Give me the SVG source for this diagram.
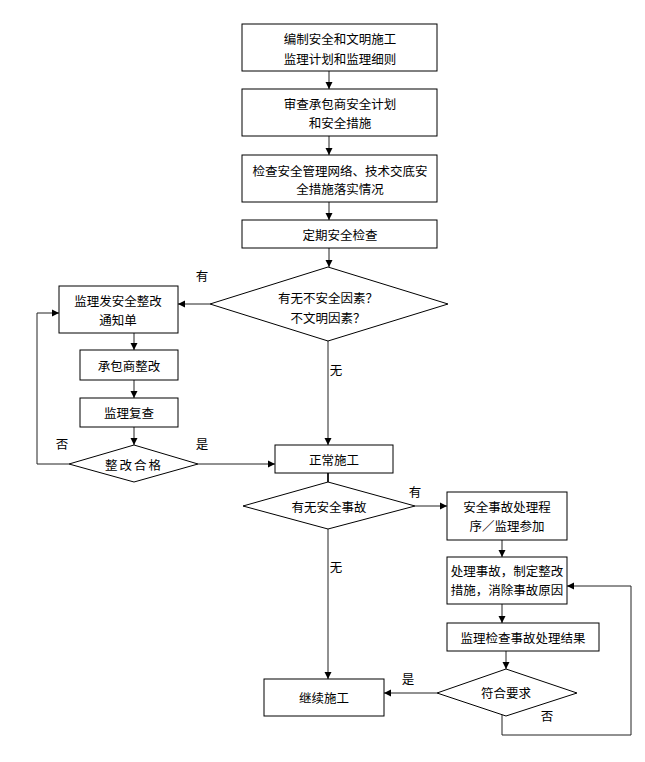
<svg xmlns="http://www.w3.org/2000/svg" width="645" height="762" viewBox="0 0 645 762">
<style>
.n{fill:#fff;stroke:#000;stroke-width:1}
.t{font-family:"Noto Sans CJK SC","Liberation Sans",sans-serif;font-size:12.5px;fill:#000;text-anchor:middle;dominant-baseline:central}
.c{fill:none;stroke:#222;stroke-width:1}
</style>
<defs>
<marker id="ar" markerUnits="userSpaceOnUse" markerWidth="8" markerHeight="8" refX="7" refY="4" orient="auto">
<path d="M0,0.5 L7,4 L0,7.5 Z" fill="#000"/>
</marker>
</defs>
<rect width="645" height="762" fill="#fff"/>
<g id="connectors">
<line class="c" x1="329" y1="71" x2="329" y2="89" marker-end="url(#ar)"/>
<line class="c" x1="329" y1="136" x2="329" y2="155" marker-end="url(#ar)"/>
<line class="c" x1="329" y1="202" x2="329" y2="220" marker-end="url(#ar)"/>
<line class="c" x1="329" y1="248" x2="329" y2="267" marker-end="url(#ar)"/>
<line class="c" x1="210" y1="304" x2="178" y2="304" marker-end="url(#ar)"/>
<line class="c" x1="134" y1="333" x2="134" y2="350" marker-end="url(#ar)"/>
<line class="c" x1="134" y1="380" x2="134" y2="398" marker-end="url(#ar)"/>
<line class="c" x1="134" y1="427" x2="134" y2="445" marker-end="url(#ar)"/>
<polyline class="c" points="69,464 37,464 37,313 59,313" marker-end="url(#ar)"/>
<line class="c" x1="198" y1="464" x2="275" y2="464" marker-end="url(#ar)"/>
<line class="c" x1="328" y1="341" x2="328" y2="445" marker-end="url(#ar)"/>
<line class="c" x1="328" y1="473" x2="328" y2="482" style="stroke-width:2"/>
<line class="c" x1="415" y1="506" x2="447" y2="506" marker-end="url(#ar)"/>
<line class="c" x1="328" y1="529" x2="328" y2="679" marker-end="url(#ar)"/>
<line class="c" x1="502" y1="540" x2="502" y2="557" marker-end="url(#ar)"/>
<line class="c" x1="502" y1="604" x2="502" y2="623" marker-end="url(#ar)"/>
<line class="c" x1="506" y1="651" x2="506" y2="669" marker-end="url(#ar)"/>
<line class="c" x1="437" y1="693" x2="384" y2="693" marker-end="url(#ar)"/>
<polyline class="c" points="502,714 502,735 631,735 631,586 567,586" marker-end="url(#ar)"/>
</g>
<g id="n1"><rect class="n" x="242" y="24" width="195" height="47"/><text class="t" x="340" y="38">编制安全和文明施工</text><text class="t" x="340" y="58">监理计划和监理细则</text></g>
<g id="n2"><rect class="n" x="242" y="89" width="195" height="47"/><text class="t" x="340" y="103">审查承包商安全计划</text><text class="t" x="340" y="122">和安全措施</text></g>
<g id="n3"><rect class="n" x="242" y="155" width="195" height="47"/><text class="t" x="340" y="170">检查安全管理网络、技术交底安</text><text class="t" x="340" y="188">全措施落实情况</text></g>
<g id="n4"><rect class="n" x="242" y="220" width="195" height="28"/><text class="t" x="340" y="234">定期安全检查</text></g>
<g id="d1"><polygon class="n" points="328,267 448,304 328,341 210,304"/><text class="t" x="328" y="297">有无不安全因素？</text><text class="t" x="328" y="317">不文明因素？</text></g>
<g id="n5"><rect class="n" x="59" y="286" width="119" height="47"/><text class="t" x="118" y="300">监理发安全整改</text><text class="t" x="118" y="319">通知单</text></g>
<g id="n6"><rect class="n" x="80" y="350" width="98" height="30"/><text class="t" x="129" y="365">承包商整改</text></g>
<g id="n7"><rect class="n" x="80" y="398" width="98" height="29"/><text class="t" x="129" y="412">监理复查</text></g>
<g id="d2"><polygon class="n" points="134,445 198,464 134,482 69,464"/><text class="t" x="134" y="464" style="letter-spacing:2px">整改合格</text></g>
<g id="n8"><rect class="n" x="275" y="445" width="118" height="28"/><text class="t" x="334" y="459">正常施工</text></g>
<g id="d3"><polygon class="n" points="328,482 415,506 328,529 243,506"/><text class="t" x="329" y="506">有无安全事故</text></g>
<g id="n9"><rect class="n" x="447" y="492" width="120" height="48"/><text class="t" x="507" y="506">安全事故处理程</text><text class="t" x="507" y="525">序／监理参加</text></g>
<g id="n10"><rect class="n" x="447" y="557" width="120" height="47"/><text class="t" x="507" y="570">处理事故，制定整改</text><text class="t" x="507" y="589">措施，消除事故原因</text></g>
<g id="n11"><rect class="n" x="447" y="623" width="152" height="28"/><text class="t" x="523" y="637">监理检查事故处理结果</text></g>
<g id="d4"><polygon class="n" points="506,669 577,693 506,716 437,693"/><text class="t" x="506" y="692">符合要求</text></g>
<g id="n12"><rect class="n" x="264" y="679" width="120" height="37"/><text class="t" x="324" y="697">继续施工</text></g>
<g id="labels">
<text class="t" x="202" y="275">有</text>
<text class="t" x="336" y="369">无</text>
<text class="t" x="62" y="443">否</text>
<text class="t" x="202" y="443">是</text>
<text class="t" x="415" y="491">有</text>
<text class="t" x="336" y="566">无</text>
<text class="t" x="408" y="678">是</text>
<text class="t" x="547" y="715">否</text>
</g>
</svg>
